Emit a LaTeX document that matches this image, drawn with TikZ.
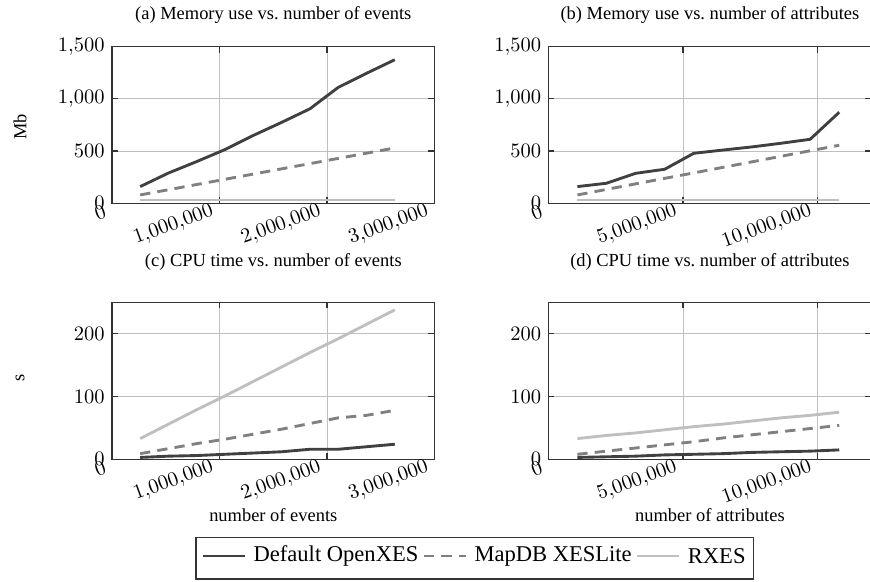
\documentclass[tikz,border=0pt]{standalone}
\usepackage{fontspec}
\setmainfont{Liberation Serif}
\usetikzlibrary{positioning}

\tikzset{
  openxes/.style={line width=1.4pt, black!75},
  xeslite/.style={line width=1.4pt, black!50, dash pattern=on 5pt off 3.5pt},
  rxes/.style={line width=1.4pt, black!25},
  gridline/.style={black!25, line width=0.45pt},
  frame/.style={black!80, line width=0.6pt},
  yticklab/.style={anchor=east},
  xticklab/.style={anchor=east, yshift=-2.5pt, rotate=20},
  plottitle/.style={font=\small},
  axislab/.style={font=\small},
  legtext/.style={font=\fontsize{11}{13}\selectfont, inner sep=0pt},
}

\begin{document}
\begin{tikzpicture}[x=0.4878pt, y=0.4878pt]
\useasboundingbox (0,0) rectangle (870,581);

% (a) memory, x in millions of events, y in Mb
\begin{scope}[shift={(111.9,377.7)}, x=52.47pt, y=0.05093pt]
  \draw[gridline] (1,0) -- (1,1500) (2,0) -- (2,1500) (0,500) -- (3,500) (0,1000) -- (3,1000);
  \foreach \t in {1,2} \draw[frame] (\t,0) -- ++(0,3pt) (\t,1500) -- ++(0,-3pt);
  \foreach \t in {500,1000} \draw[frame] (0,\t) -- ++(3pt,0) (3,\t) -- ++(-3pt,0);
  \draw[rxes] (0.263,32) -- (2.63,32);
  \draw[xeslite] (0.263,80) -- (0.526,130) -- (0.789,180) -- (1.052,230) -- (1.315,280)
    -- (1.578,330) -- (1.841,380) -- (2.104,430) -- (2.367,480) -- (2.63,530);
  \draw[openxes] (0.263,160) -- (0.526,290) -- (0.789,400) -- (1.052,515) -- (1.315,650)
    -- (1.578,775) -- (1.841,905) -- (2.104,1110) -- (2.367,1245) -- (2.63,1375);
  \draw[frame] (0,0) rectangle (3,1500);
  \foreach \y/\lab in {0/0,500/500,1000/{1{,}000},1500/{1{,}500}}
    \node[yticklab] (ay\y) at (0,\y) {$\lab$};
  \foreach \x/\lab in {0/0,1/{1{,}000{,}000},2/{2{,}000{,}000},3/{3{,}000{,}000}}
    \node[xticklab] (ax\x) at (\x,0) {$\lab$};
\end{scope}

% (b) memory, x in millions of attributes
\begin{scope}[shift={(548.3,377.7)}, x=13.14pt, y=0.05093pt]
  \draw[gridline] (5,0) -- (5,1500) (10,0) -- (10,1500) (0,500) -- (12,500) (0,1000) -- (12,1000);
  \foreach \t in {5,10} \draw[frame] (\t,0) -- ++(0,3pt) (\t,1500) -- ++(0,-3pt);
  \foreach \t in {500,1000} \draw[frame] (0,\t) -- ++(3pt,0) (12,\t) -- ++(-3pt,0);
  \draw[rxes] (1.08,32) -- (10.8,32);
  \draw[xeslite] (1.08,80) -- (2.16,133) -- (3.24,186) -- (4.32,239) -- (5.4,291)
    -- (6.48,344) -- (7.56,397) -- (8.64,450) -- (9.72,503) -- (10.8,556);
  \draw[openxes] (1.08,160) -- (2.16,192) -- (3.24,287) -- (4.32,326) -- (5.4,479)
    -- (6.48,510) -- (7.56,540) -- (8.64,575) -- (9.72,613) -- (10.8,872);
  \draw[frame] (0,0) rectangle (12,1500);
  \foreach \y/\lab in {0/0,500/500,1000/{1{,}000},1500/{1{,}500}}
    \node[yticklab] (by\y) at (0,\y) {$\lab$};
  \foreach \x/\lab in {0/0,5/{5{,}000{,}000},10/{10{,}000{,}000}}
    \node[xticklab] (bx\x) at (\x,0) {$\lab$};
\end{scope}

% (c) cpu time, y in s
\begin{scope}[shift={(111.9,121.7)}, x=52.47pt, y=0.3063pt]
  \draw[gridline] (1,0) -- (1,250) (2,0) -- (2,250) (0,100) -- (3,100) (0,200) -- (3,200);
  \foreach \t in {1,2} \draw[frame] (\t,0) -- ++(0,3pt) (\t,250) -- ++(0,-3pt);
  \foreach \t in {100,200} \draw[frame] (0,\t) -- ++(3pt,0) (3,\t) -- ++(-3pt,0);
  \draw[rxes] (0.263,33) -- (0.526,56) -- (0.789,79) -- (1.052,101) -- (1.315,124)
    -- (1.578,147) -- (1.841,170) -- (2.104,192) -- (2.367,215) -- (2.63,238);
  \draw[xeslite] (0.263,9) -- (0.526,17) -- (0.789,25) -- (1.052,32) -- (1.315,40)
    -- (1.578,48) -- (1.841,57) -- (2.104,66) -- (2.367,70) -- (2.63,78);
  \draw[openxes] (0.263,3) -- (0.526,5) -- (0.789,6) -- (1.052,8) -- (1.315,10)
    -- (1.578,12) -- (1.841,16) -- (2.104,16) -- (2.367,20) -- (2.63,24);
  \draw[frame] (0,0) rectangle (3,250);
  \foreach \y in {0,100,200}
    \node[yticklab] (cy\y) at (0,\y) {$\y$};
  \foreach \x/\lab in {0/0,1/{1{,}000{,}000},2/{2{,}000{,}000},3/{3{,}000{,}000}}
    \node[xticklab] (cx\x) at (\x,0) {$\lab$};
\end{scope}

% (d) cpu time vs attributes
\begin{scope}[shift={(548.3,121.7)}, x=13.14pt, y=0.3063pt]
  \draw[gridline] (5,0) -- (5,250) (10,0) -- (10,250) (0,100) -- (12,100) (0,200) -- (12,200);
  \foreach \t in {5,10} \draw[frame] (\t,0) -- ++(0,3pt) (\t,250) -- ++(0,-3pt);
  \foreach \t in {100,200} \draw[frame] (0,\t) -- ++(3pt,0) (12,\t) -- ++(-3pt,0);
  \draw[rxes] (1.08,33) -- (2.16,38) -- (3.24,42) -- (4.32,47) -- (5.4,52)
    -- (6.48,56) -- (7.56,61) -- (8.64,66) -- (9.72,70) -- (10.8,75);
  \draw[xeslite] (1.08,8) -- (2.16,13) -- (3.24,18) -- (4.32,23) -- (5.4,28)
    -- (6.48,34) -- (7.56,39) -- (8.64,44) -- (9.72,49) -- (10.8,54);
  \draw[openxes] (1.08,3) -- (2.16,4) -- (3.24,5) -- (4.32,7) -- (5.4,8)
    -- (6.48,9) -- (7.56,11) -- (8.64,12) -- (9.72,13) -- (10.8,15);
  \draw[frame] (0,0) rectangle (12,250);
  \foreach \y in {0,100,200}
    \node[yticklab] (dy\y) at (0,\y) {$\y$};
  \foreach \x/\lab in {0/0,5/{5{,}000{,}000},10/{10{,}000{,}000}}
    \node[xticklab] (dx\x) at (\x,0) {$\lab$};
\end{scope}

% titles and axis labels
\node[plottitle] (ta) at (273.3,566) {(a) Memory use vs.\ number of events};
\node[plottitle] (tb) at (709.9,566) {(b) Memory use vs.\ number of attributes};
\node[plottitle] (tc) at (273.3,319) {(c) CPU time vs.\ number of events};
\node[plottitle] (td) at (709.9,319) {(d) CPU time vs.\ number of attributes};
\node[axislab, rotate=90] (mb) at (20,454.3) {Mb};
\node[axislab, rotate=90] (sec) at (20,202.7) {s};
\node[axislab] (xev) at (273.3,66) {number of events};
\node[axislab] (xat) at (709.9,66) {number of attributes};

% legend
\coordinate (k1) at (203,25);
\draw[openxes] (k1) -- ++(20.5pt,0) coordinate (k1e);
\node[legtext, right=4pt of k1e] (t1) {Default OpenXES};
\coordinate[right=2.5pt of t1] (k2);
\draw[xeslite] (k2) -- ++(20.5pt,0) coordinate (k2e);
\node[legtext, right=4pt of k2e] (t2) {MapDB XESLite};
\coordinate[right=2.5pt of t2] (k3);
\draw[rxes] (k3) -- ++(20.5pt,0) coordinate (k3e);
\node[legtext, right=4pt of k3e] (t3) {RXES};
\coordinate[right=3.5pt of t3] (kr);
\draw[frame] (196,2) rectangle (kr |- 0,43.7);
\end{tikzpicture}
\end{document}
